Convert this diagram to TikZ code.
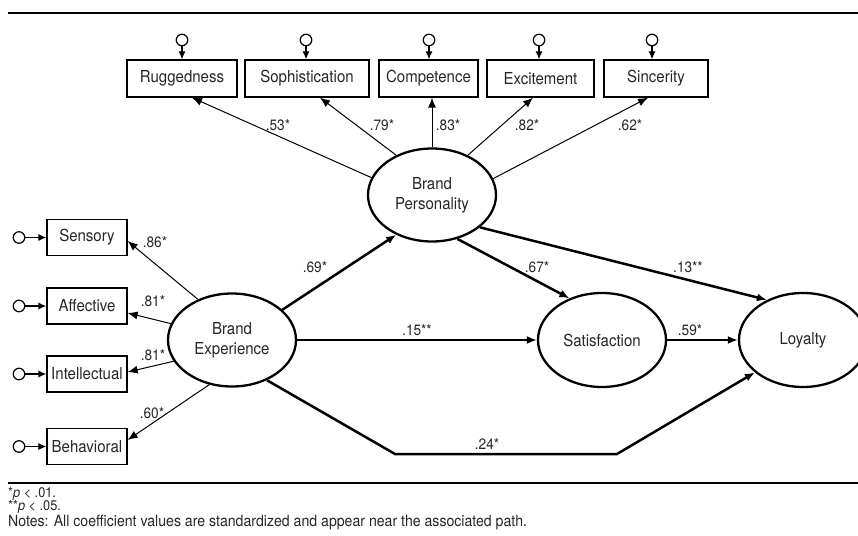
\documentclass[tikz,border=0pt]{standalone}
\usepackage{fontspec}
\setmainfont[FakeStretch=0.91]{TeX Gyre Heros}
\usetikzlibrary{arrows.meta,shapes.geometric}

\begin{document}
\begin{tikzpicture}[x=1pt,y=-1pt,
  every node/.style={font=\fontsize{16.5}{20}\selectfont, text=black!85},
  ind/.style={draw, line width=1.3pt, minimum height=37pt, inner sep=0pt},
  lat/.style={draw, ellipse, line width=2.3pt, inner sep=0pt, align=center},
  err/.style={draw, circle, line width=1.2pt, minimum size=11.5pt, inner sep=0pt},
  load/.style={line width=1pt, -{Latex[length=10pt,width=8pt]}},
  spath/.style={line width=2.5pt, -{Latex[length=10pt,width=8pt]}},
  eline/.style={line width=1.2pt, -{Latex[length=8pt,width=7pt]}},
  coef/.style={font=\fontsize{15}{17}\selectfont, inner sep=1pt},
  note/.style={font=\fontsize{15.5}{17}\selectfont, anchor=base west, inner sep=0pt},
  sig/.style={font=\fontsize{14}{15}\selectfont, anchor=base west, inner sep=0pt},
]
\useasboundingbox (0,0) rectangle (858,535);

% horizontal rules
\draw[line width=2pt] (8,13) -- (858,13);
\draw[line width=2pt] (8,483) -- (858,483);

% brand personality indicators
\node[ind, minimum width=110pt] (rug)  at (182,78.5)   {Ruggedness};
\node[ind, minimum width=124pt] (soph) at (307,78.5)   {Sophistication};
\node[ind, minimum width=99pt]  (comp) at (428.5,78.5) {Competence};
\node[ind, minimum width=107pt] (exc)  at (540.5,78.5) {Excitement};
\node[ind, minimum width=104pt] (sinc) at (656,78.5)   {Sincerity};

\node[err] (erug)  at (182,40)   {};
\node[err] (esoph) at (306,40)   {};
\node[err] (ecomp) at (429,40)   {};
\node[err] (eexc)  at (539,40)   {};
\node[err] (esinc) at (652,40)   {};
\draw[eline] (erug)  -- (erug  |- rug.north);
\draw[eline] (esoph) -- (esoph |- soph.north);
\draw[eline] (ecomp) -- (ecomp |- comp.north);
\draw[eline] (eexc)  -- (eexc  |- exc.north);
\draw[eline] (esinc) -- (esinc |- sinc.north);

% brand experience indicators
\node[ind, minimum width=80pt, minimum height=36pt] (sens) at (87,237.5) {Sensory};
\node[ind, minimum width=80pt, minimum height=36pt] (aff)  at (87,306)   {Affective};
\node[ind, minimum width=80pt, minimum height=36pt] (intl) at (87,374)   {Intellectual};
\node[ind, minimum width=80pt, minimum height=36pt] (beh)  at (87,446.5) {Behavioral};

\node[err] (esens) at (19,237.5) {};
\node[err] (eaff)  at (19,306)   {};
\node[err] (eintl) at (19,374)   {};
\node[err] (ebeh)  at (19,446.5) {};
\draw[eline] (esens) -- (sens);
\draw[eline] (eaff)  -- (aff);
\draw[eline] (eintl) -- (intl);
\draw[eline] (ebeh)  -- (beh);

% latent constructs
\node[lat, minimum width=128pt, minimum height=93pt] (bp)  at (432,195) {Brand\\Personality};
\node[lat, minimum width=128pt, minimum height=93pt] (be)  at (232,340) {Brand\\Experience};
\node[lat, minimum width=128pt, minimum height=94pt] (sat) at (602,340) {Satisfaction};
\node[lat, minimum width=128pt, minimum height=94pt] (loy) at (803,340) {Loyalty};

% loadings
\draw[load] (bp.164.7) -- ([xshift=10pt]rug.south);
\draw[load] (bp.132.8) -- ([xshift=13pt]soph.south);
\draw[load] (bp.north) -- (bp.north |- comp.south);
\draw[load] (bp.48.7)  -- ([xshift=-7.5pt]exc.south);
\draw[load] (bp.15.6)  -- ([xshift=-8pt]sinc.south);

\draw[load] (be.130.4) -- ([yshift=-3.5pt]sens.east);
\draw[load] (be.165)   -- ([yshift=-7pt]aff.east);
\draw[load] (be.200.5) -- ([yshift=2pt]intl.east);
\draw[load] (be.243)   -- ([yshift=6.5pt]beh.east);

% structural paths
\coordinate (k1) at (395,454);
\coordinate (k2) at (617,454);
\draw[spath] (be.31)    -- (bp.228.6);
\draw[spath] (be.east)  -- (sat.west);
\draw[spath] (bp.-60)   -- (sat.128);
\draw[spath] (bp.-34.8) -- (loy.132.8);
\draw[spath] (sat.east) -- (loy.west);
\draw[spath] (be.-49) -- (k1) -- (k2) -- (loy.214.6);

% coefficients
\node[coef] (c53) at (278,125) {.53*};
\node[coef] (c79) at (382,125) {.79*};
\node[coef] (c83) at (448,125) {.83*};
\node[coef] (c82) at (527,125) {.82*};
\node[coef] (c62) at (630,125) {.62*};
\node[coef] (c86) at (155,242) {.86*};
\node[coef] (c81a) at (153,301) {.81*};
\node[coef] (c81b) at (153,355) {.81*};
\node[coef] (c60) at (152,413) {.60*};
\node[coef] (c69) at (315,267) {.69*};
\node[coef] (c67) at (537,267) {.67*};
\node[coef] (c13) at (688,267) {.13**};
\node[coef] (c15) at (417,330) {.15**};
\node[coef] (c59) at (690,330) {.59*};
\node[coef] (c24) at (487,444) {.24*};

% footnotes
\node[sig]  (n1) at (8,497) {*\textit{p} < .01.};
\node[sig]  (n2) at (8,510.5) {**\textit{p} < .05.};
\node[note] (n3) at (8,526) {Notes: All coefficient values are standardized and appear near the associated path.};
\end{tikzpicture}
\end{document}
